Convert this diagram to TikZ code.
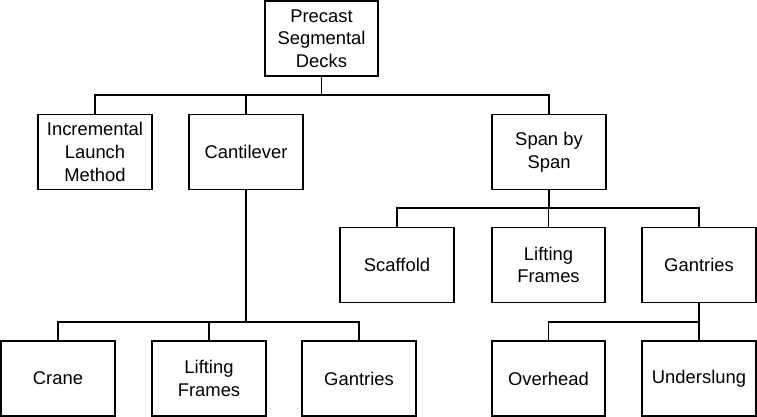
\documentclass[tikz,border=0pt]{standalone}
\usepackage{fontspec}
\setmainfont{Liberation Sans}
\begin{document}
\begin{tikzpicture}[x=1pt,y=-1pt,
  box/.style={draw=black,line width=1.2pt,fill=white,minimum width=114pt,minimum height=75pt,inner sep=0pt,align=center,
    font=\fontsize{18.4pt}{22.7pt}\selectfont},
  link/.style={draw=black,line width=1.2pt}]
\useasboundingbox (0,0) rectangle (757,417);
\fill[white] (0,0) rectangle (757,417);
\node[box,minimum width=113pt] (top) at (321.5,38.5) {Precast\\Segmental\\Decks};
\node[box] (inc) at (95,152) {Incremental\\Launch\\Method};
\node[box] (cant) at (246,152) {Cantilever};
\node[box] (span) at (549,152) {Span by\\Span};
\node[box] (scaf) at (397,265) {Scaffold};
\node[box,minimum width=113pt] (liftb) at (548.5,265) {Lifting\\Frames};
\node[box] (gantb) at (699,265) {Gantries};
\node[box] (crane) at (58,378.5) {Crane};
\node[box] (lifta) at (209,378.5) {Lifting\\Frames};
\node[box] (ganta) at (359,378.5) {Gantries};
\node[box,minimum width=113pt] (over) at (548.5,378.5) {Overhead};
\node[box] (under) at (699,378.5) {Underslung};
\coordinate (b1) at (0,95);
\coordinate (b2) at (0,208);
\coordinate (b3) at (0,322);
\draw[link] (top.south) -- (top.south |- b1) -| (inc.north);
\draw[link] (top.south |- b1) -| (cant.north);
\draw[link] (top.south |- b1) -| (span.north);
\draw[link] (span.south) -- (span.south |- b2) -| (scaf.north);
\draw[link] (span.south |- b2) -| (liftb.north);
\draw[link] (span.south |- b2) -| (gantb.north);
\draw[link] (cant.south) -- (cant.south |- b3) -| (crane.north);
\draw[link] (cant.south |- b3) -| (lifta.north);
\draw[link] (cant.south |- b3) -| (ganta.north);
\draw[link] (gantb.south) -- (gantb.south |- b3) -| (over.north);
\draw[link] (gantb.south |- b3) -- (under.north);
\end{tikzpicture}
\end{document}
